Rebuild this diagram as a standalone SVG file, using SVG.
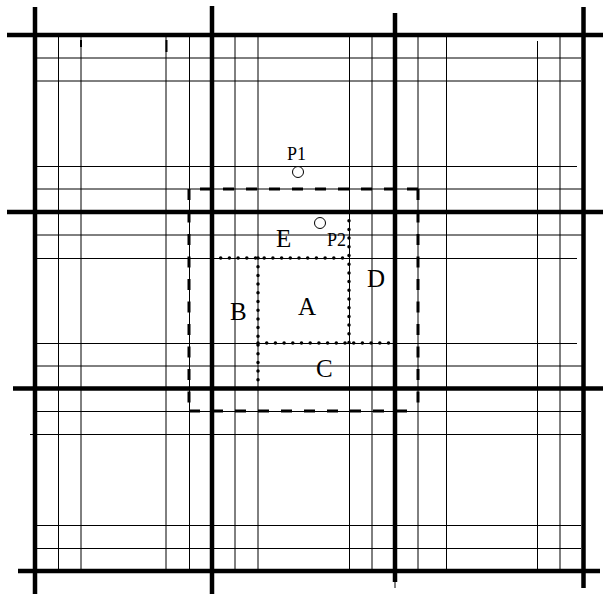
<svg xmlns="http://www.w3.org/2000/svg" width="603" height="594" viewBox="0 0 603 594">
<style>
.thick{stroke:#000;stroke-width:4.5;fill:none}
.thin{stroke:#000;stroke-width:1;fill:none}
.tick{stroke:#000;stroke-width:2;fill:none}
.dashh{stroke:#000;stroke-width:3;fill:none;stroke-dasharray:11 12}
.dashv{stroke:#000;stroke-width:3;fill:none;stroke-dasharray:11 11.5}
.dot{stroke:#000;stroke-width:3.5;fill:none;stroke-dasharray:0 8.7;stroke-linecap:round}
.lbl{font-family:"Liberation Serif","Times New Roman",serif;font-size:25px;fill:#000}
.plbl{font-family:"Liberation Serif","Times New Roman",serif;font-size:18px;fill:#000}
.pt{stroke:#000;stroke-width:1;fill:#fff}
</style>
<rect width="603" height="594" fill="#fff"/>
<g id="grid-thin">
<line class="thin" x1="58.5" y1="37" x2="58.5" y2="569"/>
<line class="thin" x1="81" y1="37" x2="81" y2="569"/>
<line class="thin" x1="166" y1="37" x2="166" y2="569"/>
<line class="thin" x1="189.5" y1="37" x2="189.5" y2="569"/>
<line class="thin" x1="235" y1="37" x2="235" y2="569"/>
<line class="thin" x1="258" y1="37" x2="258" y2="569"/>
<line class="thin" x1="349.5" y1="37" x2="349.5" y2="569"/>
<line class="thin" x1="372" y1="37" x2="372" y2="569"/>
<line class="thin" x1="418" y1="37" x2="418" y2="569"/>
<line class="thin" x1="446.5" y1="37" x2="446.5" y2="569"/>
<line class="thin" x1="537.5" y1="41" x2="537.5" y2="569"/>
<line class="thin" x1="560" y1="37" x2="560" y2="569"/>
<line class="thin" x1="35" y1="58" x2="581" y2="58"/>
<line class="thin" x1="35" y1="81" x2="581" y2="81"/>
<line class="thin" x1="35" y1="166.5" x2="577" y2="166.5"/>
<line class="thin" x1="35" y1="189" x2="582" y2="189"/>
<line class="thin" x1="35" y1="235" x2="582" y2="235"/>
<line class="thin" x1="35" y1="258.5" x2="577" y2="258.5"/>
<line class="thin" x1="35" y1="343.5" x2="577" y2="343.5"/>
<line class="thin" x1="35" y1="366" x2="582" y2="366"/>
<line class="thin" x1="35" y1="411.5" x2="581" y2="411.5"/>
<line class="thin" x1="30" y1="434.5" x2="581" y2="434.5"/>
<line class="thin" x1="35" y1="525.5" x2="581" y2="525.5"/>
<line class="thin" x1="35" y1="548.5" x2="581" y2="548.5"/>
<line class="tick" x1="81" y1="40" x2="81" y2="47"/>
<line class="tick" x1="166.5" y1="40" x2="166.5" y2="52"/>
</g>
<g id="grid-thick">
<line class="thick" x1="35" y1="7" x2="35" y2="594"/>
<line class="thick" x1="212" y1="6" x2="212" y2="594"/>
<line class="thick" x1="395" y1="13" x2="395" y2="582"/>
<line class="thin" x1="395" y1="582" x2="395" y2="588"/>
<line class="thick" x1="583.5" y1="7" x2="583.5" y2="588"/>
<line class="thick" x1="7" y1="35" x2="603" y2="35"/>
<line class="thick" x1="7" y1="212" x2="603" y2="212"/>
<line class="thick" x1="13" y1="388.5" x2="603" y2="388.5"/>
<line class="thick" x1="18" y1="571" x2="600" y2="571"/>
</g>
<g id="connectors">
<g id="dashed-region">
<line class="dashh" x1="189" y1="411" x2="418" y2="411"/>
<line class="dashh" x1="418" y1="189" x2="189" y2="189"/>
<line class="dashv" x1="189" y1="189" x2="189" y2="411"/>
<line class="dashv" x1="418" y1="189" x2="418" y2="411"/>
</g>
<g id="dotted-regions">
<line class="dot" x1="212" y1="258" x2="349" y2="258"/>
<line class="dot" x1="349" y1="212" x2="349" y2="343"/>
<line class="dot" x1="258" y1="343" x2="389" y2="343"/>
<line class="dot" x1="258" y1="258" x2="258" y2="389"/>
</g>
</g>
<g id="node-P1">
<circle class="pt" cx="298" cy="172" r="5.5"/>
<text class="plbl" x="287" y="160">P1</text>
</g>
<g id="node-P2">
<circle class="pt" cx="320" cy="223" r="5.5"/>
<text class="plbl" x="327" y="246">P2</text>
</g>
<g id="node-A"><text class="lbl" x="298" y="315">A</text></g>
<g id="node-B"><text class="lbl" x="230" y="320">B</text></g>
<g id="node-C"><text class="lbl" x="316" y="377">C</text></g>
<g id="node-D"><text class="lbl" x="367" y="287">D</text></g>
<g id="node-E"><text class="lbl" x="276" y="247">E</text></g>
</svg>
